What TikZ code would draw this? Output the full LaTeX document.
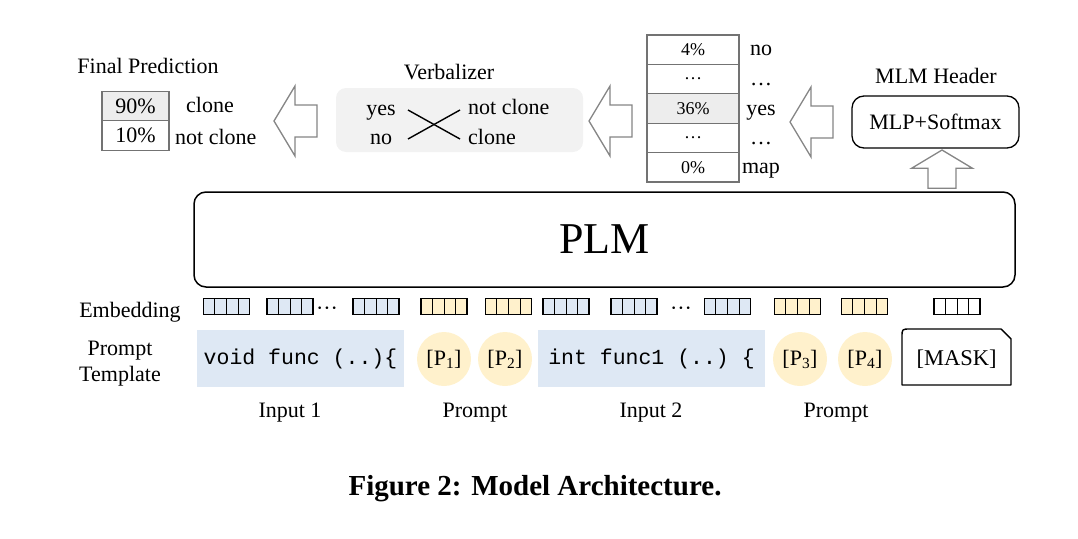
\documentclass[tikz,border=0pt]{standalone}
\usepackage{fontspec}
\setmainfont{Liberation Serif}
\setmonofont{Liberation Mono}
\usepackage{tikz}
\usetikzlibrary{calc}
\definecolor{codeblue}{HTML}{DEE8F4}
\definecolor{promptyel}{HTML}{FFF1CC}
\definecolor{verbgray}{HTML}{F2F2F2}
\definecolor{cellgray}{HTML}{EDEDED}
\definecolor{arrowgray}{HTML}{858585}
\newcommand\lblfont{\fontsize{22}{26}\selectfont}
\newcommand\middots{\textperiodcentered\textperiodcentered\textperiodcentered}
% one embedding strip of four cells
\newcommand\embed[3]{%
  \node[embbox, fill=#3] (#1) at (#2,306.5) {};
  \foreach \k in {1,2,3}
    \draw[line width=1pt]
      ($(#1.south west)!\k/4!(#1.south east)$) -- ($(#1.north west)!\k/4!(#1.north east)$);}
% hollow block arrow, tip at (#1,#2), turned by #3
\newcommand\hollowarrow[3]{%
  \draw[blockarrow, shift={(#1,#2)}, rotate=#3]
    (0,0) -- (21,-35) -- (21,-16) -- (43,-16) -- (43,16) -- (21,16) -- (21,35) -- cycle;}
\tikzset{
  probcell/.style={draw=black!55, line width=1.1pt, minimum width=67pt, minimum height=29.5pt,
    inner sep=0pt, font=\lblfont},
  vocabcell/.style={draw=black!55, line width=1.1pt, minimum width=92pt, minimum height=29.4pt,
    inner sep=0pt, font=\fontsize{18}{20}\selectfont},
  wordlbl/.style={inner sep=0pt, text height=14.5pt, text depth=0pt, font=\lblfont},
  embbox/.style={draw, line width=1.6pt, minimum width=46pt, minimum height=16pt, inner sep=0pt},
  codebox/.style={fill=codeblue, minimum height=57pt, inner sep=0pt,
    font=\ttfamily\fontsize{21.5}{24}\selectfont},
  promptdot/.style={circle, fill=promptyel, minimum size=54pt, inner sep=0pt, font=\lblfont},
  roundbox/.style={draw, rounded corners=12pt, inner sep=0pt},
  blockarrow/.style={draw=arrowgray, line width=1.3pt, fill=white, line join=miter},
}
\begin{document}
\begin{tikzpicture}[x=1pt, y=-1pt]
\useasboundingbox (0,0) rectangle (1078,538);
% final prediction
\node[wordlbl] (predtitle) at (148,66) {Final Prediction};
\node[probcell, fill=cellgray] (p90) at (135.5,106) {90\%};
\node[probcell] (p10) at (135.5,135.5) {10\%};
\node[wordlbl, anchor=west] (lclone) at (186,105) {clone};
\node[wordlbl, anchor=west] (lnotclone) at (175,137) {not clone};
\hollowarrow{274}{121}{0}
% verbalizer
\node[wordlbl] (verbtitle) at (449,72) {Verbalizer};
\fill[verbgray, rounded corners=10pt] (336,88) rectangle (583,152);
\node[wordlbl] (vyes) at (381,108) {yes};
\node[wordlbl] (vno) at (381,137) {no};
\node[wordlbl, anchor=west] (vnotclone) at (468,107) {not clone};
\node[wordlbl, anchor=west] (vclone) at (468,137) {clone};
\coordinate (xyes) at (408,110);
\coordinate (xno) at (408,139);
\coordinate (xnotclone) at (460,110);
\coordinate (xclone) at (460,139);
\draw[line width=1.4pt] (xyes) -- (xclone);
\draw[line width=1.4pt] (xno) -- (xnotclone);
\hollowarrow{589}{121}{0}
% vocabulary distribution
\node[vocabcell] (v1) at (693,49.7) {4\%};
\node[vocabcell] (v2) at (693,79.1) {\dots};
\node[vocabcell, fill=cellgray] (v3) at (693,108.5) {36\%};
\node[vocabcell] (v4) at (693,137.9) {\dots};
\node[vocabcell] (v5) at (693,167.3) {0\%};
\node[wordlbl] (w1) at (761,48) {no};
\node[wordlbl] (w2) at (761,78) {\dots};
\node[wordlbl] (w3) at (761,108) {yes};
\node[wordlbl] (w4) at (761,137) {\dots};
\node[wordlbl] (w5) at (761,166) {map};
\hollowarrow{790}{122}{0}
% MLM header
\node[wordlbl] (mlmtitle) at (936,76) {MLM Header};
\node[roundbox, line width=1.3pt, minimum width=167pt, minimum height=52pt, font=\lblfont]
  (mlp) at (935.5,122) {MLP+Softmax};
\draw[blockarrow, shift={(942,150)}, rotate=-90, scale=0.87]
  (0,0) -- (21,-35) -- (21,-16) -- (44,-16) -- (44,16) -- (21,16) -- (21,35) -- cycle;
% PLM
\node[roundbox, line width=1.5pt, minimum width=821pt, minimum height=95pt,
  font=\fontsize{44}{48}\selectfont] (plm) at (604.5,239.5) {PLM};
% embeddings
\node[wordlbl] (embtitle) at (130,310) {Embedding};
\embed{e1}{226.5}{codeblue}
\embed{e2}{290}{codeblue}
\node[inner sep=0pt, font=\lblfont] (dots1) at (327,311) {\middots};
\embed{e3}{376}{codeblue}
\embed{e4}{444}{promptyel}
\embed{e5}{508.5}{promptyel}
\embed{e6}{566}{codeblue}
\embed{e7}{634}{codeblue}
\node[inner sep=0pt, font=\lblfont] (dots2) at (681,311) {\middots};
\embed{e8}{727.5}{codeblue}
\embed{e9}{797.5}{promptyel}
\embed{e10}{864.5}{promptyel}
\embed{e11}{957}{white}
% prompt template
\node[inner sep=0pt, font=\lblfont, align=center] (tpltitle) at (120,364) {Prompt\\Template};
\node[codebox, minimum width=207pt] (code1) at (300.5,358.5) {void func (..)\{};
\node[promptdot] (pp1) at (444,359) {[P\textsubscript{1}]};
\node[promptdot] (pp2) at (505,359) {[P\textsubscript{2}]};
\node[codebox, minimum width=227pt] (code2) at (651.5,358.5) {int func1 (..) \{};
\node[promptdot] (pp3) at (800,359) {[P\textsubscript{3}]};
\node[promptdot] (pp4) at (865,359) {[P\textsubscript{4}]};
\node[wordlbl, font=\fontsize{22.5}{26}\selectfont] (mask) at (956.5,358) {[MASK]};
\draw[line width=1.4pt, line join=round] (902,385) -- (902,337) .. controls (902,329) .. (910,329)
  -- (1001,329) -- (1011,339) -- (1011,385) -- cycle;
% segment labels
\node[wordlbl] (in1) at (290,410) {Input 1};
\node[wordlbl] (pr1) at (475,410) {Prompt};
\node[wordlbl] (in2) at (651,410) {Input 2};
\node[wordlbl] (pr2) at (836,410) {Prompt};
% caption
\node[inner sep=0pt, font=\bfseries\fontsize{29}{32}\selectfont] (caption) at (535,489)
  {Figure 2: Model Architecture.};
\end{tikzpicture}
\end{document}
